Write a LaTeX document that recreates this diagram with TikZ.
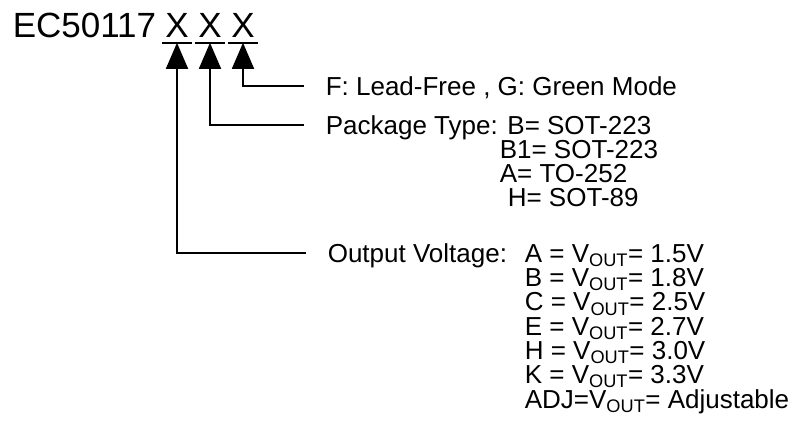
\documentclass[tikz,border=0pt]{standalone}
\usepackage{fontspec}
\setmainfont{Liberation Sans}
\usetikzlibrary{arrows.meta}

\begin{document}
\begin{tikzpicture}[x=1pt, y=-1pt, line width=1.6pt,
  codefont/.style={font=\fontsize{35}{40}\selectfont},
  head/.style={anchor=west, inner sep=0pt, text height=18.6pt, text depth=0pt,
    font=\fontsize{26}{24.3}\selectfont},
  lbl/.style={anchor=base west, inner sep=0pt,
    font=\fontsize{26}{24.3}\selectfont},
  sfx/.style={codefont, anchor=base, inner xsep=2.5pt, inner ysep=0pt, text depth=5pt},
  pin/.style={-{Triangle[length=26pt, width=22pt]}, shorten <=21pt}]

% Canvas
\useasboundingbox (0,0) rectangle (792,442);

% Part number and the three suffix letters
\node[codefont, anchor=base west, inner sep=0pt] (part) at (12,37) {EC50117};
\node[sfx] (volt) at (177,37) {X};
\node[sfx] (pack) at (210,37) {X};
\node[sfx] (lead) at (243,37) {X};

% Underlines
\draw (volt.south west) -- (volt.south east);
\draw (pack.south west) -- (pack.south east);
\draw (lead.south west) -- (lead.south east);

% Legend texts
\node[head] (leadtxt) at (325,86) {F: Lead-Free , G: Green Mode};

\node[head] (packtxt) at (325,125) {Package Type: B= SOT-223};
\node[lbl] (pkgbone) at (499,158.6) {B1= SOT-223};
\node[lbl] (pkga) at (499,182.6) {A= TO-252};
\node[lbl] (pkgh) at (507,206.6) {H= SOT-89};

\node[head] (volttxt) at (327,253) {Output Voltage:};
\foreach \vtxt [count=\i from 0] in {%
    {A = V\textsubscript{OUT}= 1.5V},
    {B = V\textsubscript{OUT}= 1.8V},
    {C = V\textsubscript{OUT}= 2.5V},
    {E = V\textsubscript{OUT}= 2.7V},
    {H = V\textsubscript{OUT}= 3.0V},
    {K = V\textsubscript{OUT}= 3.3V},
    {ADJ=V\textsubscript{OUT}= Adjustable}}
  \node[lbl] (vsel\i) at (524,{262.3+24.3*\i}) {\vtxt};

% Connectors from legend to letters
\draw[pin] (leadtxt.west) -| (lead.south);
\draw[pin] (packtxt.west) -| (pack.south);
\draw[pin] (volttxt.west) -| (volt.south);

\end{tikzpicture}
\end{document}
